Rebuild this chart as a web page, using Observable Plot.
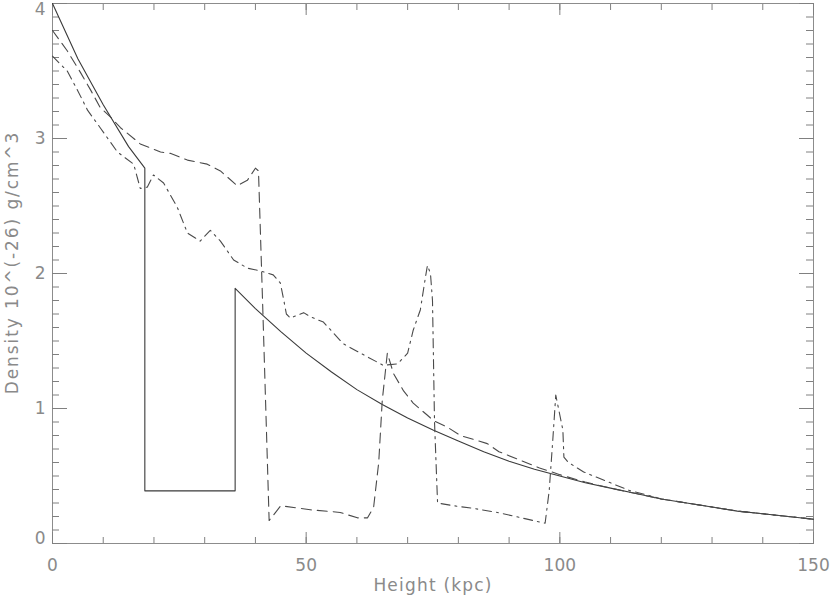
<!DOCTYPE html>
<html>
<head>
<meta charset="utf-8">
<script src="https://cdn.jsdelivr.net/npm/d3@7"></script>
<script src="https://cdn.jsdelivr.net/npm/@observablehq/plot@0.6"></script>
<style>
  html, body { margin: 0; padding: 0; background: #ffffff; }
  #chart svg { display: block; }
  #chart g[aria-description="xlabel"] text { letter-spacing: 1.2px; }
  #chart g[aria-description="ylabel"] text { letter-spacing: 1.9px; }
</style>
</head>
<body>
<div id="chart"></div>
<script>
// ---- Data ----
const xLabel = "Height (kpc)";
const yLabel = "Density 10^(-26) g/cm^3";

const xMajorTicks = [0, 50, 100, 150];
const xMinorTicks = [0, 10, 20, 30, 40, 50, 60, 70, 80, 90, 100, 110, 120, 130, 140, 150];
const yMajorTicks = [0, 1, 2, 3, 4];
const yMinorTicks = [0.1, 0.2, 0.3, 0.4, 0.5, 0.6, 0.7, 0.8, 0.9,
                     1.1, 1.2, 1.3, 1.4, 1.5, 1.6, 1.7, 1.8, 1.9,
                     2.1, 2.2, 2.3, 2.4, 2.5, 2.6, 2.7, 2.8, 2.9,
                     3.1, 3.2, 3.3, 3.4, 3.5, 3.6, 3.7, 3.8, 3.9];

// solid line
const solidX = [0, 5, 10, 15, 18.2, 18.2, 36, 36, 40, 45, 50, 55, 60, 65, 70, 75, 80, 85, 90, 95, 100, 105, 110, 115, 120, 125, 130, 135, 140, 145, 150];
const solidY = [4.0, 3.59, 3.25, 2.94, 2.78, 0.39, 0.39, 1.89, 1.74, 1.57, 1.41, 1.27, 1.14, 1.03, 0.93, 0.84, 0.76, 0.68, 0.61, 0.55, 0.50, 0.45, 0.41, 0.37, 0.33, 0.30, 0.27, 0.24, 0.22, 0.20, 0.18];

// dashed line
const dashedX = [0, 2.9, 5.5, 7.5, 9.4, 11.4, 13.4, 17.3, 21.3, 23.2, 26.6, 30.5, 33.1, 36.4, 38.4, 40.0, 40.6, 41.4, 42.2, 42.7, 45.0, 50.8, 56.7, 60.1, 62.1, 63.3, 64.3, 65.0, 66.0, 67.2, 69.2, 71.1, 73.9, 75.1, 77.9, 80.4, 85.7, 88, 92, 96, 100, 105, 110, 115, 120, 125, 130, 135, 140, 145, 150];
const dashedY = [3.80, 3.65, 3.49, 3.36, 3.23, 3.16, 3.08, 2.96, 2.90, 2.89, 2.84, 2.81, 2.76, 2.65, 2.69, 2.78, 2.76, 1.80, 0.80, 0.17, 0.28, 0.25, 0.23, 0.19, 0.19, 0.27, 0.60, 1.06, 1.41, 1.26, 1.13, 1.04, 0.95, 0.91, 0.86, 0.80, 0.74, 0.68, 0.62, 0.56, 0.51, 0.455, 0.41, 0.37, 0.33, 0.30, 0.27, 0.24, 0.22, 0.20, 0.18];

// dash-dot line
const dashDotX = [0, 2.9, 4.9, 6.9, 9.4, 12.8, 16.0, 17.3, 18.7, 19.9, 21.9, 24.6, 26.6, 29.1, 31.1, 33.1, 35.7, 38.4, 40.9, 43.5, 44.9, 45.5, 46.1, 46.9, 49.5, 50.8, 53.4, 57.3, 60.7, 65.2, 68.0, 70.0, 71.1, 72.5, 73.5, 73.9, 74.5, 74.9, 75.3, 75.9, 79.0, 83.0, 87.7, 94.8, 97.1, 97.9, 98.6, 99.2, 100.6, 100.8, 101.7, 104.7, 108.6, 113.9, 117.2, 120, 125, 130, 135, 140, 145, 150];
const dashDotY = [3.61, 3.50, 3.36, 3.21, 3.08, 2.90, 2.81, 2.63, 2.64, 2.73, 2.67, 2.49, 2.30, 2.24, 2.32, 2.24, 2.10, 2.04, 2.02, 1.99, 1.93, 1.82, 1.70, 1.67, 1.71, 1.68, 1.64, 1.48, 1.41, 1.32, 1.33, 1.41, 1.58, 1.73, 1.97, 2.06, 2.00, 1.80, 0.90, 0.30, 0.28, 0.26, 0.23, 0.17, 0.15, 0.39, 0.76, 1.10, 0.84, 0.64, 0.60, 0.53, 0.47, 0.39, 0.36, 0.33, 0.30, 0.27, 0.24, 0.22, 0.20, 0.18];

// ---- Tables built from the arrays ----
const solid = solidX.map((x, i) => ({x, y: solidY[i]}));
const dashed = dashedX.map((x, i) => ({x, y: dashedY[i]}));
const dashDot = dashDotX.map((x, i) => ({x, y: dashDotY[i]}));

const W = 830, H = 600, mL = 52, mR = 17, mT = 3, mB = 57;
const innerW = W - mL - mR;

const axisGray = "#8c8c8c";
const tickGray = "#808080";
const textGray = "#8a8a8a";
const blank = () => "";
const intFmt = d => String(d);

const chart = Plot.plot({
  width: W,
  height: H,
  marginLeft: mL,
  marginRight: mR,
  marginTop: mT,
  marginBottom: mB,
  style: {fontFamily: "DejaVu Sans, sans-serif", fontSize: "17px", color: textGray, background: "#ffffff"},
  x: {domain: [0, 150]},
  y: {domain: [0, 4]},
  marks: [
    Plot.frame({stroke: axisGray, strokeWidth: 1}),
    // bottom axis
    Plot.axisX(xMinorTicks, {anchor: "bottom", tickSize: -6, tickFormat: blank, stroke: tickGray, label: null}),
    Plot.axisX(xMajorTicks, {anchor: "bottom", tickSize: -11, tickFormat: blank, stroke: tickGray, label: null}),
    Plot.axisX(xMajorTicks, {anchor: "bottom", tickSize: 0, tickPadding: 15, tickFormat: intFmt, fill: textGray, label: null}),
    // top axis
    Plot.axisX(xMinorTicks, {anchor: "top", tickSize: -6, tickFormat: blank, stroke: tickGray, label: null}),
    Plot.axisX(xMajorTicks, {anchor: "top", tickSize: -11, tickFormat: blank, stroke: tickGray, label: null}),
    // left axis: minor ticks (inward), major ticks, labels
    Plot.ruleY(yMinorTicks, {y: d => d, insetRight: innerW - 7, stroke: tickGray}),
    Plot.axisY(yMajorTicks, {anchor: "left", tickSize: -15, tickFormat: blank, stroke: tickGray, label: null}),
    Plot.axisY([1, 2, 3], {anchor: "left", tickSize: 0, tickPadding: 7, tickFormat: intFmt, fill: textGray, label: null}),
    Plot.axisY([4], {anchor: "left", tickSize: 0, tickPadding: 7, tickFormat: intFmt, dy: 6, fill: textGray, label: null}),
    Plot.axisY([0], {anchor: "left", tickSize: 0, tickPadding: 7, tickFormat: intFmt, dy: -5, fill: textGray, label: null}),
    // right axis
    Plot.ruleY(yMinorTicks, {y: d => d, insetLeft: innerW - 7, stroke: tickGray}),
    Plot.axisY(yMajorTicks, {anchor: "right", tickSize: -15, tickFormat: blank, stroke: tickGray, label: null}),
    // axis titles
    Plot.text([xLabel], {frameAnchor: "bottom", text: d => d, dy: 42, lineAnchor: "middle", textAnchor: "middle", fill: textGray, fontSize: 17, ariaDescription: "xlabel"}),
    Plot.text([yLabel], {frameAnchor: "left", text: d => d, rotate: -90, dx: -40, dy: -11, lineAnchor: "middle", textAnchor: "middle", fill: textGray, fontSize: 17, ariaDescription: "ylabel"}),
    // data lines
    Plot.line(solid, {x: "x", y: "y", stroke: "#3a3a3a", strokeWidth: 1.1}),
    Plot.line(dashed, {x: "x", y: "y", stroke: "#4a4a4a", strokeWidth: 1.1, strokeDasharray: "10,6"}),
    Plot.line(dashDot, {x: "x", y: "y", stroke: "#4a4a4a", strokeWidth: 1.1, strokeDasharray: "9,5,2,5"})
  ]
});

document.getElementById("chart").appendChild(chart);
</script>
</body>
</html>
